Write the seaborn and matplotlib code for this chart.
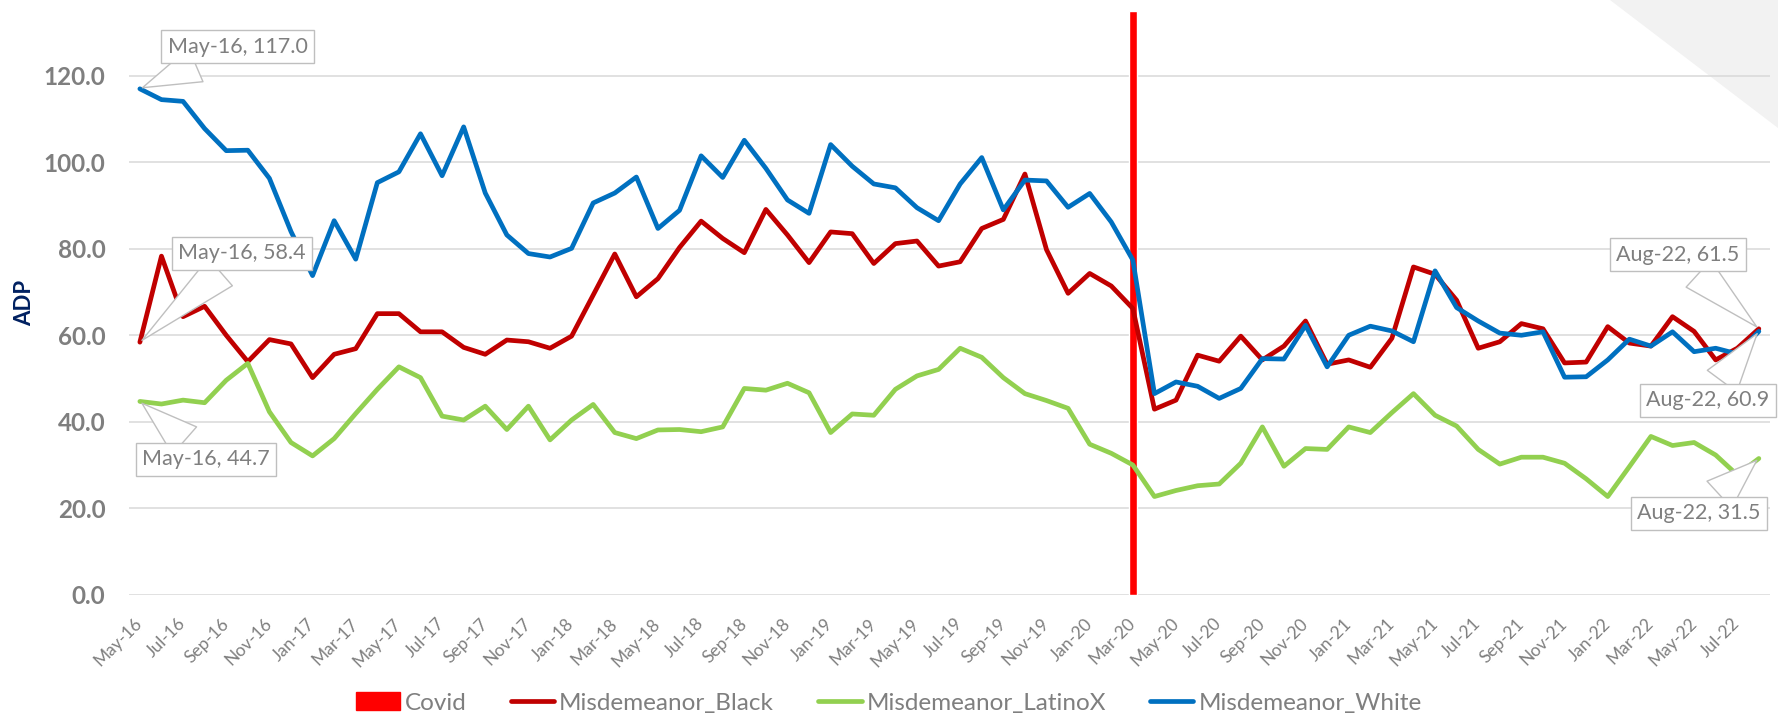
import matplotlib
matplotlib.use("Agg")
import numpy as np
import pandas as pd
import matplotlib.pyplot as plt
from matplotlib.patches import Polygon, Patch
from matplotlib.lines import Line2D
import seaborn as sns

# monthly categories May-16 .. Aug-22
months = pd.date_range("2016-05-01", periods=76, freq="MS").strftime("%b-%y").tolist()

black = [58.4, 78.3, 64.3, 66.7, 60.0, 53.9, 59.0, 58.0, 50.2, 55.6, 56.9, 65.0, 65.0, 60.8, 60.8, 57.2,
         55.6, 58.9, 58.5, 57.0, 59.8, 69.3, 78.8, 68.9, 73.1, 80.3, 86.4, 82.4, 79.1, 89.1, 83.2, 76.8,
         83.9, 83.5, 76.6, 81.2, 81.8, 76.0, 77.0, 84.7, 86.8, 97.3, 79.8, 69.7, 74.3, 71.4, 66.2, 42.9,
         45.0, 55.4, 54.0, 59.8, 54.3, 57.5, 63.3, 53.3, 54.3, 52.6, 59.3, 75.8, 74.1, 68.1, 57.0, 58.5,
         62.7, 61.5, 53.6, 53.8, 62.0, 58.2, 57.5, 64.3, 60.9, 54.3, 57.0, 61.5]
latinox = [44.7, 44.1, 45.0, 44.4, 49.6, 53.5, 42.3, 35.2, 32.1, 36.1, 41.9, 47.5, 52.7, 50.2, 41.3, 40.4,
           43.6, 38.2, 43.6, 35.8, 40.4, 44.0, 37.5, 36.1, 38.1, 38.2, 37.7, 38.8, 47.7, 47.3, 48.9, 46.7,
           37.5, 41.8, 41.5, 47.5, 50.6, 52.1, 57.0, 54.9, 50.2, 46.5, 44.9, 43.1, 34.8, 32.7, 30.0, 22.7,
           24.1, 25.2, 25.6, 30.4, 38.8, 29.7, 33.8, 33.6, 38.8, 37.5, 42.1, 46.5, 41.5, 39.0, 33.6, 30.2,
           31.8, 31.8, 30.4, 26.8, 22.7, 29.6, 36.6, 34.5, 35.2, 32.3, 27.7, 31.5]
white = [117.0, 114.5, 114.1, 107.8, 102.7, 102.8, 96.3, 84.0, 73.8, 86.5, 77.6, 95.3, 97.8, 106.6, 96.9, 108.2,
         92.9, 83.2, 78.9, 78.1, 80.1, 90.6, 92.9, 96.6, 84.7, 88.9, 101.5, 96.5, 105.1, 98.6, 91.3, 88.2,
         104.1, 99.1, 95.0, 94.1, 89.5, 86.5, 95.0, 101.1, 89.0, 95.9, 95.7, 89.6, 92.8, 86.2, 77.4, 46.5,
         49.2, 48.2, 45.4, 47.7, 54.6, 54.5, 62.3, 52.7, 60.0, 62.1, 61.0, 58.5, 74.9, 66.4, 63.3, 60.5,
         60.0, 60.8, 50.3, 50.4, 54.3, 59.1, 57.5, 60.8, 56.2, 57.0, 55.7, 60.9]

covid_month = "Mar-20"
covid_value = 135

series_names = ["Misdemeanor_Black", "Misdemeanor_LatinoX", "Misdemeanor_White"]
colors = {"Misdemeanor_Black": "#C00000", "Misdemeanor_LatinoX": "#92D050", "Misdemeanor_White": "#0070C0"}
covid_color = "#FF0000"
gray = "#7F7F7F"

n = len(months)
df = pd.DataFrame({
    "idx": list(range(n)) * 3,
    "ADP": black + latinox + white,
    "Series": [s for s in series_names for _ in range(n)],
})

sns.set_theme(style="white")
plt.rcParams["font.family"] = ["Lato", "DejaVu Sans"]

fig = plt.figure(figsize=(17.78, 7.19), dpi=100)
ax = fig.add_axes([0.0726, 0.1729, 0.9227, 0.8118])
ax.set_facecolor("none")

# decorative grey corner
fig.patches.append(Polygon([(1610 / 1778, 1), (1, 1), (1, 1 - 128 / 719)], closed=True,
                           transform=fig.transFigure, facecolor="#F2F2F2", edgecolor="none", zorder=-5))

# Covid marker bar
ax.bar(months.index(covid_month), covid_value, width=0.4, color=covid_color, zorder=1.5)

sns.lineplot(data=df, x="idx", y="ADP", hue="Series", hue_order=series_names, palette=colors,
             linewidth=3.4, sort=False, legend=False, ax=ax, zorder=2)
for ln in ax.lines:
    ln.set_solid_joinstyle("round")
    ln.set_solid_capstyle("round")

ax.set_xlim(-0.5, n - 0.5)
ax.set_ylim(0, 135)
ax.set_yticks(np.arange(0, 121, 20))
ax.set_yticklabels([f"{v:.1f}" for v in np.arange(0, 121, 20)], fontweight="bold", color=gray, fontsize=17.5)
ax.set_xticks(range(0, n, 2))
ax.set_xticklabels(months[::2], color=gray, fontsize=12.5)
for lab in ax.get_xticklabels():
    lab.set_rotation(45)
    lab.set_ha("right")
    lab.set_va("center")
    lab.set_rotation_mode("anchor")
ax.tick_params(axis="x", length=0, pad=19)
ax.tick_params(axis="y", length=0, pad=17)
ax.grid(axis="y", color="#D9D9D9", linewidth=1.1)
ax.grid(axis="x", visible=False)
for sp in ax.spines.values():
    sp.set_visible(False)

ax.set_xlabel("")
ax.set_ylabel("ADP", fontsize=16, fontweight="bold", color="#002060")
ax.yaxis.set_label_coords(-0.0573, 0.5)

# callout labels: (index, values, offset in pixels)
callouts = [(0, white, (98, 42)), (0, black, (102, 89)), (0, latinox, (66, -58)),
            (n - 1, black, (-81, 74)), (n - 1, white, (-51, -69)), (n - 1, latinox, (-60, -55))]
for i, vals, off in callouts:
    ax.annotate(f"{months[i]}, {vals[i]:.1f}", xy=(i, vals[i]), xytext=off, textcoords="offset pixels",
                ha="center", va="center", fontsize=15.5, color=gray, zorder=5,
                bbox=dict(boxstyle="square,pad=0.3", fc="white", ec="#BFBFBF", lw=1),
                arrowprops=dict(arrowstyle="wedge,tail_width=1.7,shrink_factor=0.5",
                                fc="white", ec="#BFBFBF", lw=1))

handles = [Patch(color=covid_color)] + [Line2D([], [], color=colors[s], lw=3.4) for s in series_names]
fig.legend(handles, ["Covid"] + series_names, loc="center", bbox_to_anchor=(0.5, 1 - 703 / 719),
           ncol=4, frameon=False, fontsize=17.5, labelcolor=gray, handlelength=1.8,
           handletextpad=0.2, columnspacing=1.8)

fig.savefig("out.png", dpi=100)
